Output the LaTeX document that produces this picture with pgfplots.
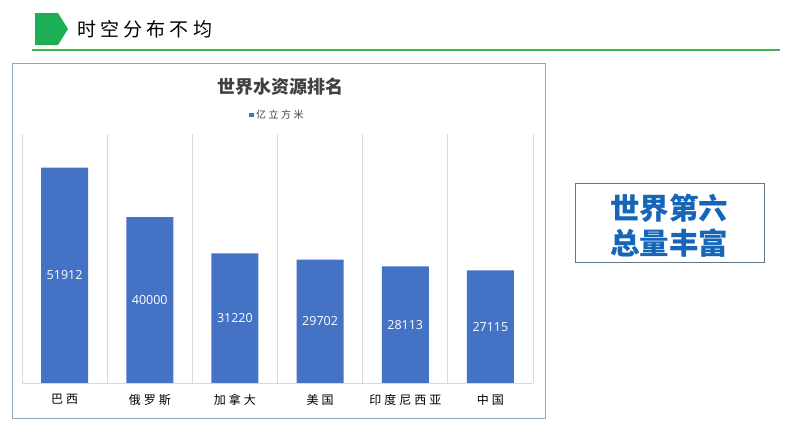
\documentclass[border=0pt]{standalone}
\usepackage{pgfplots}
\pgfplotsset{compat=1.18}
\usepackage{fontspec}
\setmainfont{Open Sans}
\newfontfamily\cjk{Noto Sans CJK SC}
\newfontfamily\cjksp{Noto Sans CJK SC}[LetterSpace=22]
\newfontfamily\cjkspb{Noto Sans CJK SC}[LetterSpace=25]
\definecolor{barblue}{HTML}{4472C4}
\definecolor{hgreen}{HTML}{1DAF55}
\definecolor{lgreen}{HTML}{3CB54A}
\definecolor{boxblue}{HTML}{1565B8}
\definecolor{gridc}{HTML}{D9D9D9}
\definecolor{txtc}{HTML}{404040}
\definecolor{frame}{HTML}{8EA9C4}
\begin{document}
\begin{tikzpicture}
\path[use as bounding box, fill=white] (0pt,0pt) rectangle (794pt,-447pt);
% header
\fill[hgreen] (35pt,-13pt) -- (58pt,-13pt) -- (68pt,-29pt) -- (58pt,-45pt) -- (35pt,-45pt) -- cycle;
\node[anchor=west, inner sep=0pt, font=\cjksp\fontsize{19}{21}\selectfont] at (77pt,-29pt) {时空分布不均};
\draw[lgreen, line width=1.6pt] (32pt,-50pt) -- (780pt,-50pt);
% chart frame
\draw[frame, line width=0.8pt] (12pt,-63pt) rectangle (545pt,-418pt);
\node[font=\cjk\bfseries\fontsize{18}{20}\selectfont, text=txtc] at (280pt,-87pt) {世界水资源排名};
\begin{axis}[
  at={(22pt,-383pt)}, anchor=south west,
  scale only axis, width=511pt, height=249pt,
  xmin=-0.5, xmax=5.5, ymin=0, ymax=60000,
  ybar, bar width=47pt,
  axis line style={draw=none},
  axis x line*=bottom,
  ytick=\empty,
  xtick={0,...,5},
  xticklabels={巴西,俄罗斯,加拿大,美国,印度尼西亚,中国},
  minor xtick={-0.5,0.5,...,5.5},
  xminorgrids, minor grid style={gridc, line width=0.8pt},
  major tick length=0pt, minor tick length=0pt,
  xticklabel style={font=\cjkspb\fontsize{12}{14}\selectfont, text=black, yshift=-8pt},
  legend style={at={(0.5,1.076)}, anchor=center, draw=none, fill=none,
    font=\cjkspb\fontsize{10}{12}\selectfont, text=txtc, inner sep=0pt,
    /tikz/every even column/.append style={column sep=1pt}},
  legend image code/.code={\fill[barblue] (0pt,-2.3pt) rectangle (4.6pt,2.3pt);},
  clip=false,
]
\addplot[fill=barblue, draw=none, bar shift=0pt] coordinates {(0,51912) (1,40000) (2,31220) (3,29702) (4,28113) (5,27115)};
\addlegendentry{亿立方米}
\addplot[fill=none, draw=none, bar shift=0pt, forget plot,
  point meta=explicit symbolic, nodes near coords,
  every node near coord/.style={anchor=center, text=white, font=\fontsize{12.5}{14}\selectfont}]
  coordinates {(0,25956)[51912] (1,20000)[40000] (2,15610)[31220] (3,14851)[29702] (4,14056.5)[28113] (5,13557.5)[27115]};
\draw[gridc, line width=0.8pt] (axis cs:-0.5,0) -- (axis cs:5.5,0);
\end{axis}
% right box
\draw[frame!70!black, line width=0.8pt] (575pt,-183pt) rectangle (764pt,-262pt);
\node[font=\cjk\bfseries\fontsize{29.5}{31}\selectfont, text=boxblue, inner sep=0pt] at (669pt,-208pt) {世界第六};
\node[font=\cjk\bfseries\fontsize{29.5}{31}\selectfont, text=boxblue, inner sep=0pt] at (669pt,-243pt) {总量丰富};
\end{tikzpicture}
\end{document}
